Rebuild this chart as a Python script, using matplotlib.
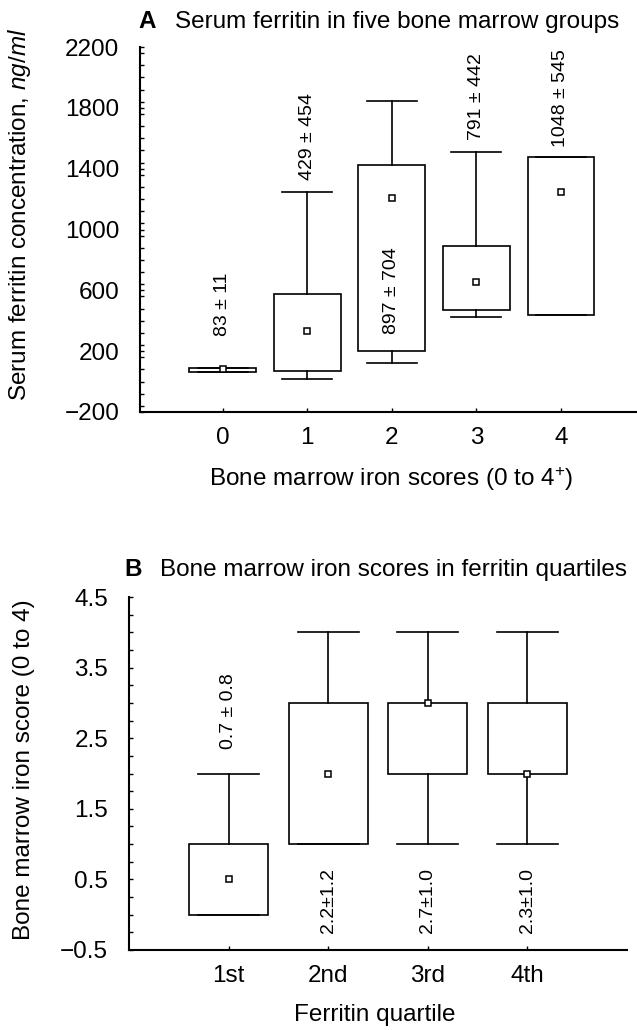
import matplotlib
matplotlib.use("Agg")
import matplotlib.pyplot as plt
from matplotlib.ticker import MultipleLocator

plt.rcParams['font.family'] = ['Liberation Sans', 'DejaVu Sans']
plt.rcParams['mathtext.fontset'] = 'custom'
plt.rcParams['mathtext.rm'] = 'Liberation Sans'
plt.rcParams['mathtext.it'] = 'Liberation Sans:italic'

# ---------------- Panel A data ----------------
a_categories = ["0", "1", "2", "3", "4"]
a_q1 = [66, 72, 200, 473, 435]
a_q3 = [90, 574, 1424, 890, 1475]
a_whislo = [66, 18, 121, 424, 435]
a_whishi = [90, 1248, 1842, 1512, 1475]
a_marker = [83, 330, 1204, 655, 1248]
a_labels = ["83 ± 11", "429 ± 454", "897 ± 704", "791 ± 442", "1048 ± 545"]
a_label_y = [303, 1325, 314, 1589, 1545]

# ---------------- Panel B data ----------------
b_categories = ["1st", "2nd", "3rd", "4th"]
b_q1 = [0, 1, 2, 2]
b_q3 = [1, 3, 3, 3]
b_whislo = [0, 1, 1, 1]
b_whishi = [2, 4, 4, 4]
b_marker = [0.5, 2, 3, 2]
b_labels = ["0.7 ± 0.8", "2.2±1.2", "2.7±1.0", "2.3±1.0"]
b_label_y = [2.35, -0.26, -0.26, -0.26]

W, H = 637, 1030
fig = plt.figure(figsize=(W / 100, H / 100), dpi=100)

def fx(px):
    return px / W

def fy(py):
    return 1 - py / H

FS = 17.5
ANN = 14

box_kw = dict(
    showmeans=True, showfliers=False, patch_artist=True,
    boxprops=dict(facecolor='white', edgecolor='black', linewidth=1.2),
    whiskerprops=dict(color='black', linewidth=1.2),
    capprops=dict(color='black', linewidth=1.2),
    medianprops=dict(linewidth=0),
    meanprops=dict(marker='s', markerfacecolor='white', markeredgecolor='black',
                   markersize=5, markeredgewidth=1.1),
)

def style_axes(ax):
    for s in ['top', 'right']:
        ax.spines[s].set_visible(False)
    for s in ['left', 'bottom']:
        ax.spines[s].set_linewidth(1.5)
    ax.tick_params(axis='both', which='both', direction='in', length=3, width=1,
                   labelsize=FS)
    ax.tick_params(axis='y', which='major', pad=15)
    ax.tick_params(axis='x', which='major', pad=11)

# ---------------- Panel A ----------------
axA = fig.add_axes([fx(140), fy(412), fx(637 - 140), fy(47) - fy(412)])
statsA = [dict(med=m, q1=q1, q3=q3, whislo=lo, whishi=hi, mean=m, label=c)
          for c, q1, q3, lo, hi, m in zip(a_categories, a_q1, a_q3, a_whislo, a_whishi, a_marker)]
posA = list(range(len(a_categories)))
axA.bxp(statsA, positions=posA, widths=0.79, capwidths=0.59, **box_kw)
axA.set_xlim(-0.98, 4.9)
axA.set_ylim(-200, 2200)
axA.yaxis.set_minor_locator(MultipleLocator(80))
axA.set_yticks([-200, 200, 600, 1000, 1400, 1800, 2200])
axA.set_yticklabels(["\u2212200", "200", "600", "1000", "1400", "1800", "2200"])
axA.set_xticks(posA)
axA.set_xticklabels(a_categories)
style_axes(axA)
for p, t, y in zip(posA, a_labels, a_label_y):
    axA.text(p, y, t, rotation=90, ha='center', va='bottom', fontsize=ANN)

fig.text(fx(138), fy(22), "A", fontsize=FS, fontweight='bold', ha='left', va='center')
fig.text(fx(175), fy(22), "Serum ferritin in five bone marrow groups", fontsize=FS,
         ha='left', va='center')
fig.text(fx(20), fy(214), r"Serum ferritin concentration, $\it{ng/ml}$", fontsize=FS,
         rotation=90, ha='center', va='center')
fig.text(fx(391), fy(479), r"Bone marrow iron scores (0 to 4$^{+}$)", fontsize=FS,
         ha='center', va='center')

# ---------------- Panel B ----------------
axB = fig.add_axes([fx(129), fy(950), fx(627 - 129), fy(597) - fy(950)])
statsB = [dict(med=m, q1=q1, q3=q3, whislo=lo, whishi=hi, mean=m, label=c)
          for c, q1, q3, lo, hi, m in zip(b_categories, b_q1, b_q3, b_whislo, b_whishi, b_marker)]
posB = list(range(1, len(b_categories) + 1))
axB.bxp(statsB, positions=posB, widths=0.79, capwidths=0.61, **box_kw)
axB.set_xlim(0, 5)
axB.set_ylim(-0.5, 4.5)
axB.set_yticks([-0.5, 0.5, 1.5, 2.5, 3.5, 4.5])
axB.set_yticklabels(["\u22120.5", "0.5", "1.5", "2.5", "3.5", "4.5"])
axB.yaxis.set_minor_locator(MultipleLocator(0.25))
axB.set_xticks(posB)
axB.set_xticklabels(b_categories)
style_axes(axB)
for p, t, y in zip(posB, b_labels, b_label_y):
    axB.text(p, y, t, rotation=90, ha='center', va='bottom', fontsize=ANN)

fig.text(fx(124), fy(570), "B", fontsize=FS, fontweight='bold', ha='left', va='center')
fig.text(fx(160), fy(570), "Bone marrow iron scores in ferritin quartiles", fontsize=FS,
         ha='left', va='center')
fig.text(fx(24), fy(770), "Bone marrow iron score (0 to 4)", fontsize=FS,
         rotation=90, ha='center', va='center')
fig.text(fx(375), fy(1015), "Ferritin quartile", fontsize=FS, ha='center', va='center')

fig.savefig("out.png", dpi=100)
